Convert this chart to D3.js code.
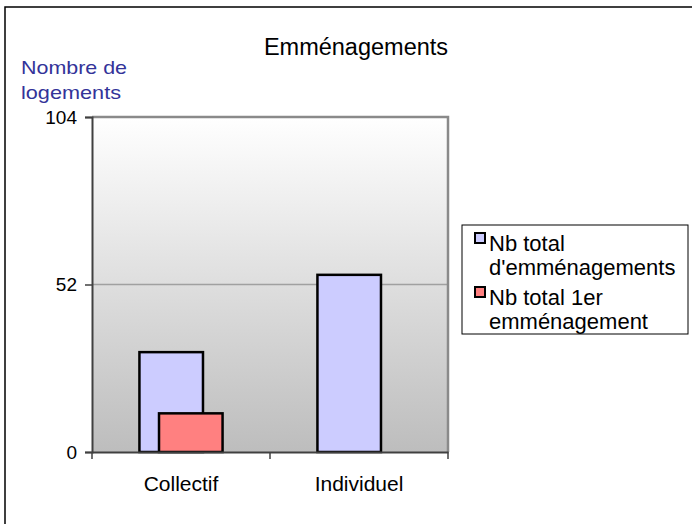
<!DOCTYPE html>
<html>
<head>
<meta charset="utf-8">
<script src="https://cdn.jsdelivr.net/npm/d3@7"></script>
<style>
  body { margin: 0; background: #fff; }
  text { font-family: Arial, "Liberation Sans", sans-serif; }
</style>
</head>
<body>
<div id="chart"></div>
<script>
// data
var categories = ["Collectif", "Individuel"];
var seriesNames = ["Nb total d'emménagements", "Nb total 1er emménagement"];
var totalMoves = [31, 55];
var firstMoves = [12, 0];
var yTicks = [0, 52, 104];
var colors = ["#ccccff", "#ff8080"];

var W = 692, H = 524;
var svg = d3.select("#chart").append("svg").attr("width", W).attr("height", H);

// outer frame (right/bottom edges sit outside the window)
svg.append("rect").attr("x", 5).attr("y", 7).attr("width", 700).attr("height", 530)
  .attr("fill", "#fff").attr("stroke", "#000").attr("stroke-width", 1.5);

var plot = { left: 92, top: 117, right: 448, bottom: 452 };

var defs = svg.append("defs");
var grad = defs.append("linearGradient").attr("id", "bg").attr("x1", 0).attr("y1", 0).attr("x2", 0).attr("y2", 1);
grad.append("stop").attr("offset", "0%").attr("stop-color", "#ffffff");
grad.append("stop").attr("offset", "100%").attr("stop-color", "#bdbdbd");

svg.append("rect").attr("x", plot.left).attr("y", plot.top)
  .attr("width", plot.right - plot.left).attr("height", plot.bottom - plot.top)
  .attr("fill", "url(#bg)");

var x = d3.scaleBand().domain(categories).range([plot.left, plot.right]).padding(0);
var y = d3.scaleLinear().domain([0, 104]).range([plot.bottom, plot.top]);

// gridline
svg.append("g").selectAll("line").data([52]).enter().append("line")
  .attr("x1", plot.left).attr("x2", plot.right)
  .attr("y1", function(d){ return y(d); }).attr("y2", function(d){ return y(d); })
  .attr("stroke", "#a0a0a0").attr("stroke-width", 1.5);

// top / right border of plot area
svg.append("path")
  .attr("d", "M" + plot.left + "," + plot.top + "H" + plot.right + "V" + plot.bottom)
  .attr("fill", "none").attr("stroke", "#8a8a8a").attr("stroke-width", 2.5);

// bars
var bw = x.bandwidth() * 0.357;
var shift = x.bandwidth() * 0.11;
var series = [totalMoves, firstMoves];
series.forEach(function(vals, si) {
  svg.append("g").selectAll("rect").data(categories).enter().append("rect")
    .attr("x", function(d){ return x(d) + x.bandwidth()/2 + (si - 0.5) * shift - bw/2; })
    .attr("y", function(d, i){ return y(vals[i]); })
    .attr("width", bw)
    .attr("height", function(d, i){ return y(0) - y(vals[i]); })
    .attr("fill", colors[si])
    .attr("stroke", "#000").attr("stroke-width", 2.5)
    .style("display", function(d, i){ return vals[i] > 0 ? null : "none"; });
});

// y axis
var yAxis = svg.append("g").attr("transform", "translate(" + plot.left + ",0)")
  .call(d3.axisLeft(y).tickValues(yTicks).tickSize(7).tickPadding(8));
yAxis.select(".domain").attr("stroke", "#404040").attr("stroke-width", 2);
yAxis.selectAll(".tick line").attr("stroke", "#404040").attr("stroke-width", 1.5);
yAxis.selectAll(".tick text").attr("font-size", 19).attr("fill", "#000")
  .attr("font-family", "Arial, 'Liberation Sans', sans-serif");

// x axis
var xAxis = svg.append("g").attr("transform", "translate(0," + plot.bottom + ")")
  .call(d3.axisBottom(x).tickSize(0).tickPadding(24));
xAxis.select(".domain").attr("stroke", "#404040").attr("stroke-width", 2);
xAxis.selectAll(".tick text").attr("font-size", 21).attr("fill", "#000")
  .attr("font-family", "Arial, 'Liberation Sans', sans-serif");
// category boundary ticks
var bounds = [plot.left].concat(categories.map(function(c){ return x(c) + x.bandwidth(); }));
xAxis.selectAll("line.bound").data(bounds).enter().append("line").attr("class", "bound")
  .attr("x1", function(d){ return d; }).attr("x2", function(d){ return d; })
  .attr("y1", 0).attr("y2", 7).attr("stroke", "#404040").attr("stroke-width", 1.5);

// title
svg.append("text").attr("x", 356).attr("y", 55).attr("text-anchor", "middle")
  .attr("font-size", 23.5).attr("fill", "#000").text("Emménagements");

// y axis title
var yl = svg.append("text").attr("fill", "#333399").attr("font-size", 19);
yl.append("tspan").attr("x", 21).attr("y", 74).attr("textLength", 106).attr("lengthAdjust", "spacingAndGlyphs").text("Nombre de");
yl.append("tspan").attr("x", 21).attr("y", 99).attr("textLength", 100).attr("lengthAdjust", "spacingAndGlyphs").text("logements");

// legend
var lg = svg.append("g");
lg.append("rect").attr("x", 462).attr("y", 225).attr("width", 226).attr("height", 109)
  .attr("fill", "#fff").attr("stroke", "#000").attr("stroke-width", 1);
var legendLines = [["Nb total", "d'emménagements"], ["Nb total 1er", "emménagement"]];
seriesNames.forEach(function(name, i) {
  var top = 233 + i * 54;
  lg.append("rect").attr("x", 475).attr("y", top).attr("width", 10).attr("height", 10)
    .attr("fill", colors[i]).attr("stroke", "#000").attr("stroke-width", 2);
  var t = lg.append("text").attr("font-size", 22).attr("fill", "#000");
  t.append("tspan").attr("x", 489).attr("y", top + 18).text(legendLines[i][0]);
  t.append("tspan").attr("x", 489).attr("y", top + 42).text(legendLines[i][1]);
});
</script>
</body>
</html>
